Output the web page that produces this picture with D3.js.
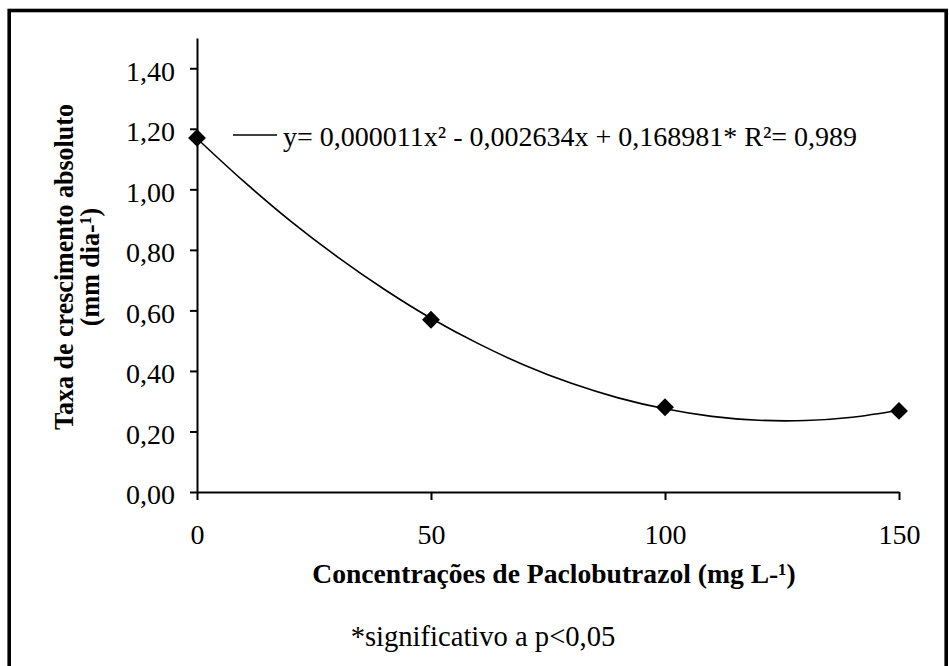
<!DOCTYPE html>
<html>
<head>
<meta charset="utf-8">
<script src="https://cdn.jsdelivr.net/npm/d3@7"></script>
<style>
  html, body { margin: 0; padding: 0; background: #fff; }
  svg { display: block; }
</style>
</head>
<body>
<svg id="chart" width="949" height="666"></svg>
<script>
// ---- data ----
const concentrations = [0, 50, 100, 150];
const growthRate = [1.170, 0.569, 0.280, 0.268];
// trendline
const trendX = [0, 10, 20, 30, 40, 50, 60, 70, 80, 90, 100, 110, 120, 130, 140, 150];
const trendY = [1.168, 1.026, 0.895, 0.777, 0.670, 0.574, 0.491, 0.419, 0.359, 0.311, 0.275, 0.250, 0.237, 0.236, 0.247, 0.270];
const yTicks = [0, 0.2, 0.4, 0.6, 0.8, 1.0, 1.2, 1.4];
const xTicks = [0, 50, 100, 150];
const equationLabel = "y= 0,000011x\u00B2 - 0,002634x + 0,168981* R\u00B2= 0,989";
const yTitle1 = "Taxa de crescimento  absoluto";
const yTitle2 = "(mm dia-\u00B9)";
const xTitle = "Concentra\u00E7\u00F5es de Paclobutrazol (mg L-\u00B9)";
const footnote = "*significativo a p<0,05";

// ---- layout ----
const svg = d3.select("#chart");
const serif = "'Liberation Serif', 'Times New Roman', Times, serif";
const plotLeft = 197, plotRight = 899, plotTop = 38, plotBottom = 492;

const x = d3.scaleLinear().domain([0, 150]).range([plotLeft, plotRight]);
const y = d3.scaleLinear().domain([0, 1.5]).range([plotBottom, plotTop]);
const fmt = v => d3.format(".2f")(v).replace(".", ",");

// frame
svg.append("rect")
  .attr("x", 9.2).attr("y", 10.5)
  .attr("width", 937).attr("height", 720)
  .attr("fill", "none").attr("stroke", "#000").attr("stroke-width", 3.6);

// y axis
const gy = svg.append("g").attr("transform", `translate(${plotLeft},0)`)
  .call(d3.axisLeft(y).tickValues(yTicks).tickFormat(fmt).tickSize(7).tickSizeOuter(0).tickPadding(15));
gy.select(".domain").attr("stroke-width", 2);
gy.selectAll(".tick line").attr("stroke-width", 2);
gy.selectAll(".tick text")
  .attr("font-family", serif).attr("font-size", 28).attr("fill", "#000")
  .attr("dy", "0.42em");

// x axis
const gx = svg.append("g").attr("transform", `translate(0,${plotBottom})`)
  .call(d3.axisBottom(x).tickValues(xTicks).tickFormat(d3.format("d")).tickSize(8).tickSizeOuter(0).tickPadding(24));
gx.select(".domain").attr("stroke-width", 2);
gx.selectAll(".tick line").attr("stroke-width", 2);
gx.selectAll(".tick text")
  .attr("font-family", serif).attr("font-size", 28).attr("fill", "#000");

// trendline
const line = d3.line().x((d, i) => x(trendX[i])).y(d => y(d)).curve(d3.curveCatmullRom);
svg.append("path").datum(trendY)
  .attr("d", line)
  .attr("fill", "none").attr("stroke", "#000").attr("stroke-width", 1.6);

// points (diamonds)
const diamond = d3.symbol().type(d3.symbolSquare).size(160);
svg.append("g").selectAll("path")
  .data(growthRate)
  .join("path")
  .attr("d", diamond)
  .attr("transform", (d, i) => `translate(${x(concentrations[i])},${y(d)}) rotate(45)`)
  .attr("fill", "#000");

// legend
svg.append("line")
  .attr("x1", 233).attr("x2", 277).attr("y1", 135).attr("y2", 135)
  .attr("stroke", "#000").attr("stroke-width", 1.6);
svg.append("text")
  .attr("x", 283).attr("y", 146)
  .attr("font-family", serif).attr("font-size", 28).attr("fill", "#000")
  .text(equationLabel);

// y title
const yt = svg.append("text")
  .attr("transform", "translate(73,267) rotate(-90) scale(0.93,1)")
  .attr("text-anchor", "middle")
  .attr("font-family", serif).attr("font-size", 28).attr("font-weight", "bold").attr("fill", "#000");
yt.append("tspan").attr("x", 0).attr("y", 0).text(yTitle1);
yt.append("tspan").attr("x", 0).attr("y", 26).text(yTitle2);

// x title
svg.append("text")
  .attr("x", 554).attr("y", 583)
  .attr("text-anchor", "middle")
  .attr("font-family", serif).attr("font-size", 27.6).attr("font-weight", "bold").attr("fill", "#000")
  .text(xTitle);

// footnote
svg.append("text")
  .attr("x", 483).attr("y", 646)
  .attr("text-anchor", "middle")
  .attr("font-family", serif).attr("font-size", 28.6).attr("fill", "#000")
  .text(footnote);
</script>
</body>
</html>
